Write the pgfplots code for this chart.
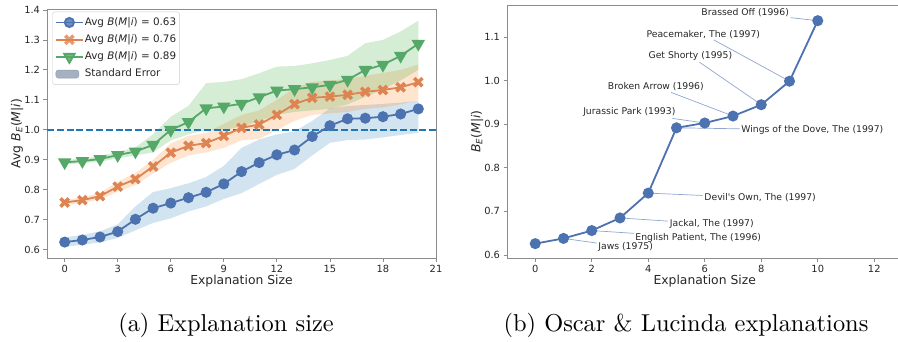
\documentclass[border=0pt]{standalone}
\usepackage{fontspec}
\usepackage{pgfplots}
\pgfplotsset{compat=1.18}
\usepackage{pgfplotstable}
\usetikzlibrary{arrows.meta}
\newfontfamily\dv{DejaVu Sans}
\definecolor{cblue}{HTML}{4C72B0}
\definecolor{corange}{HTML}{DD8452}
\definecolor{cgreen}{HTML}{55A868}
\definecolor{tblue}{HTML}{1F77B4}
\definecolor{torange}{HTML}{FF7F0E}
\definecolor{tgreen}{HTML}{2CA02C}
\definecolor{spine}{HTML}{8C8C8C}
\definecolor{txt}{HTML}{262626}
\definecolor{seleg}{HTML}{8F9DB0}
\definecolor{annot}{HTML}{8FA6D0}

\pgfdeclareplotmark{Xf}{%
  \pgftransformrotate{45}%
  \pgfmathsetlengthmacro{\ma}{\pgfplotmarksize}%
  \pgfmathsetlengthmacro{\mw}{0.3*\pgfplotmarksize}%
  \pgfpathmoveto{\pgfqpoint{\mw}{\mw}}%
  \pgfpathlineto{\pgfqpoint{\mw}{\ma}}%
  \pgfpathlineto{\pgfqpoint{-\mw}{\ma}}%
  \pgfpathlineto{\pgfqpoint{-\mw}{\mw}}%
  \pgfpathlineto{\pgfqpoint{-\ma}{\mw}}%
  \pgfpathlineto{\pgfqpoint{-\ma}{-\mw}}%
  \pgfpathlineto{\pgfqpoint{-\mw}{-\mw}}%
  \pgfpathlineto{\pgfqpoint{-\mw}{-\ma}}%
  \pgfpathlineto{\pgfqpoint{\mw}{-\ma}}%
  \pgfpathlineto{\pgfqpoint{\mw}{-\mw}}%
  \pgfpathlineto{\pgfqpoint{\ma}{-\mw}}%
  \pgfpathlineto{\pgfqpoint{\ma}{\mw}}%
  \pgfpathclose
  \pgfusepathqfill
}

% mean values
\pgfplotstableread{
x blue orange green
0 0.626 0.758 0.892
1 0.633 0.766 0.896
2 0.643 0.779 0.903
3 0.661 0.811 0.916
4 0.702 0.836 0.928
5 0.739 0.878 0.950
6 0.756 0.924 1.000
7 0.774 0.947 1.026
8 0.792 0.956 1.072
9 0.820 0.980 1.078
10 0.861 1.007 1.087
11 0.891 1.018 1.109
12 0.917 1.050 1.131
13 0.933 1.086 1.136
14 0.978 1.107 1.142
15 1.014 1.111 1.150
16 1.037 1.117 1.167
17 1.039 1.127 1.200
18 1.044 1.133 1.217
19 1.053 1.142 1.247
20 1.070 1.159 1.287
}\means

% standard-error bands: upper edge left to right, then lower edge right to left
\pgfplotstableread{
x y
0 0.642
1 0.650
2 0.662
3 0.685
4 0.745
5 0.793
6 0.806
7 0.822
8 0.843
9 0.880
10 0.940
11 0.968
12 0.985
13 0.995
14 1.030
15 1.072
16 1.080
17 1.083
18 1.087
19 1.091
20 1.098
20 0.990
19 0.983
18 0.975
17 0.968
16 0.966
15 0.957
14 0.915
13 0.870
12 0.850
11 0.820
10 0.789
9 0.770
8 0.745
7 0.728
6 0.705
5 0.690
4 0.665
3 0.640
2 0.625
1 0.617
0 0.610
}\bandB

\pgfplotstableread{
x y
0 0.766
1 0.775
2 0.790
3 0.828
4 0.856
5 0.900
6 0.955
7 0.980
8 0.990
9 1.020
10 1.050
11 1.065
12 1.100
13 1.140
14 1.160
15 1.165
16 1.170
17 1.180
18 1.190
19 1.200
20 1.218
20 1.100
19 1.085
18 1.075
17 1.070
16 1.060
15 1.055
14 1.050
13 1.030
12 1.000
11 0.970
10 0.965
9 0.940
8 0.925
7 0.915
6 0.890
5 0.855
4 0.816
3 0.794
2 0.768
1 0.757
0 0.750
}\bandO

\pgfplotstableread{
x y
0 0.900
1 0.904
2 0.913
3 0.927
4 0.942
5 0.985
6 1.044
7 1.080
8 1.156
9 1.160
10 1.169
11 1.189
12 1.211
13 1.213
14 1.222
15 1.233
16 1.247
17 1.289
18 1.300
19 1.328
20 1.364
20 1.200
19 1.165
18 1.135
17 1.110
16 1.085
15 1.070
14 1.065
13 1.060
12 1.050
11 1.030
10 1.010
9 1.000
8 1.000
7 0.985
6 0.965
5 0.925
4 0.915
3 0.905
2 0.894
1 0.889
0 0.885
}\bandG

\pgfplotsset{
  myaxis/.style={
    scale only axis,
    axis line style={spine, line width=0.8bp},
    tick style={spine, line width=0.8bp},
    tick align=outside,
    major tick length=3.5bp,
    xtick pos=left, ytick pos=left,
    ticklabel style={font=\dv\fontsize{9.9}{12}\selectfont, text=txt},
    /pgf/number format/assume math mode=true,
  },
}

\newcommand{\lf}{\dv\fontsize{10.4}{12.5}\selectfont}
\newcommand{\BMi}{\textit{B}(\textit{M}|\textit{i})}
\newcommand{\BEMi}{\textit{B}\textsubscript{\textit{E}}(\textit{M}|\textit{i})}

\begin{document}
\begin{tikzpicture}

% ---------------- left panel ----------------
\begin{axis}[myaxis,
  at={(47bp,-9bp)}, anchor=north west,
  width=389bp, height=249.3bp,
  xmin=-1, xmax=21, ymin=0.572, ymax=1.403,
  xtick={0,3,6,9,12,15,18,21},
  ytick={0.6,0.7,0.8,0.9,1.0,1.1,1.2,1.3,1.4},
  yticklabel style={/pgf/number format/.cd, fixed, fixed zerofill, precision=1},
  legend cell align=left,
  legend style={at={(axis description cs:0.0136,0.989)}, anchor=north west,
    font=\lf, text=txt,
    draw={rgb,255:red,204;green,204;blue,204}, rounded corners=2.5bp,
    fill=white, fill opacity=0.8, text opacity=1,
    inner xsep=2.5bp, inner ysep=4.3bp, row sep=4.7bp,
    nodes={inner sep=1bp, text height=8bp, text depth=2.5bp},
    /tikz/every even column/.append style={column sep=2.5bp}},
  legend image code/.code={\draw[mark repeat=2, mark phase=2, #1]
     plot coordinates {(0bp,0bp) (13.5bp,0bp) (27bp,0bp)};},
]
\addplot[draw=none, fill=tblue, fill opacity=0.2, forget plot] table[x=x,y=y]{\bandB};
\addplot[draw=none, fill=torange, fill opacity=0.2, forget plot] table[x=x,y=y]{\bandO};
\addplot[draw=none, fill=tgreen, fill opacity=0.2, forget plot] table[x=x,y=y]{\bandG};

\addplot[tblue, line width=1.5bp, dash pattern=on 7bp off 2.8bp, forget plot] coordinates {(-1,1) (21,1)};

\addplot[cblue, line width=1.8bp, mark=*, mark size=4.6bp, mark options={solid, draw=none, fill=cblue}] table[x=x,y=blue]{\means};
\addlegendentry{\lf Avg \BMi{} = 0.63}
\addplot[corange, line width=1.8bp, mark=Xf, mark size=5.8bp, mark options={solid, fill=corange}] table[x=x,y=orange]{\means};
\addlegendentry{\lf Avg \BMi{} = 0.76}
\addplot[cgreen, line width=1.8bp, mark=triangle*, mark size=6bp, mark options={solid, rotate=180, draw=none, fill=cgreen}] table[x=x,y=green]{\means};
\addlegendentry{\lf Avg \BMi{} = 0.89}
\addlegendimage{legend image code/.code={\fill[seleg] (0bp,-4bp) rectangle (23bp,4bp);}}
\addlegendentry{\lf Standard Error}
\end{axis}

% ---------------- right panel ----------------
\begin{axis}[myaxis,
  at={(507bp,-5bp)}, anchor=north west,
  width=395.5bp, height=253bp,
  xmin=-1, xmax=13, ymin=0.593, ymax=1.174,
  xtick={0,2,4,6,8,10,12},
  ytick={0.6,0.7,0.8,0.9,1.0,1.1},
  yticklabel style={/pgf/number format/.cd, fixed, fixed zerofill, precision=1},
  clip=false,
]
\node[font=\dv\fontsize{9.3}{11}\selectfont, text=txt, inner sep=1.5bp] (a10) at (axis cs:7.43,1.1565) {Brassed Off (1996)};
\node[font=\dv\fontsize{9.3}{11}\selectfont, text=txt, inner sep=1.5bp] (a9) at (axis cs:5.95,1.107) {Peacemaker, The (1997)};
\node[font=\dv\fontsize{9.3}{11}\selectfont, text=txt, inner sep=1.5bp] (a8) at (axis cs:5.49,1.057) {Get Shorty (1995)};
\node[font=\dv\fontsize{9.3}{11}\selectfont, text=txt, inner sep=1.5bp] (a7) at (axis cs:4.27,0.9866) {Broken Arrow (1996)};
\node[font=\dv\fontsize{9.3}{11}\selectfont, text=txt, inner sep=1.5bp] (a6) at (axis cs:3.33,0.9277) {Jurassic Park (1993)};
\node[font=\dv\fontsize{9.3}{11}\selectfont, text=txt, inner sep=1.5bp] (a5) at (axis cs:9.81,0.887) {Wings of the Dove, The (1997)};
\node[font=\dv\fontsize{9.3}{11}\selectfont, text=txt, inner sep=1.5bp] (a4) at (axis cs:7.96,0.731) {Devil's Own, The (1997)};
\node[font=\dv\fontsize{9.3}{11}\selectfont, text=txt, inner sep=1.5bp] (a3) at (axis cs:6.25,0.671) {Jackal, The (1997)};
\node[font=\dv\fontsize{9.3}{11}\selectfont, text=txt, inner sep=1.5bp] (a2) at (axis cs:5.77,0.640) {English Patient, The (1996)};
\node[font=\dv\fontsize{9.3}{11}\selectfont, text=txt, inner sep=1.5bp] (a1) at (axis cs:3.20,0.618) {Jaws (1975)};
\draw[annot, line width=0.7bp, -{Stealth[length=3.5bp,width=2.6bp]}] (a10) -- (axis cs:10,1.138);
\draw[annot, line width=0.7bp, -{Stealth[length=3.5bp,width=2.6bp]}] (a9) -- (axis cs:9,0.999);
\draw[annot, line width=0.7bp, -{Stealth[length=3.5bp,width=2.6bp]}] (a8) -- (axis cs:8,0.945);
\draw[annot, line width=0.7bp, -{Stealth[length=3.5bp,width=2.6bp]}] (a7) -- (axis cs:7,0.919);
\draw[annot, line width=0.7bp, -{Stealth[length=3.5bp,width=2.6bp]}] (a6) -- (axis cs:6,0.903);
\draw[annot, line width=0.7bp, -{Stealth[length=3.5bp,width=2.6bp]}] (a5) -- (axis cs:5,0.892);
\draw[annot, line width=0.7bp, -{Stealth[length=3.5bp,width=2.6bp]}] (a4) -- (axis cs:4,0.742);
\draw[annot, line width=0.7bp, -{Stealth[length=3.5bp,width=2.6bp]}] (a3) -- (axis cs:3,0.685);
\draw[annot, line width=0.7bp, -{Stealth[length=3.5bp,width=2.6bp]}] (a2) -- (axis cs:2,0.656);
\draw[annot, line width=0.7bp, -{Stealth[length=3.5bp,width=2.6bp]}] (a1) -- (axis cs:1,0.638);
\addplot[cblue, line width=1.8bp, mark=*, mark size=4.6bp, mark options={solid, draw=none, fill=cblue}] coordinates {
(0,0.626) (1,0.638) (2,0.656) (3,0.685) (4,0.742) (5,0.892) (6,0.903) (7,0.919) (8,0.945) (9,0.999) (10,1.138)};
\end{axis}

% ---------------- axis labels ----------------
\node[font=\dv\fontsize{12.4}{14}\selectfont, text=txt, inner sep=0] at (241.5bp,-281bp) {Explanation Size};
\node[font=\dv\fontsize{12.4}{14}\selectfont, text=txt, inner sep=0, rotate=90] at (17bp,-133.5bp) {Avg \BEMi};
\node[font=\dv\fontsize{12.4}{14}\selectfont, text=txt, inner sep=0] at (704.7bp,-281bp) {Explanation Size};
\node[font=\dv\fontsize{12.4}{14}\selectfont, text=txt, inner sep=0, rotate=90] at (477bp,-131.5bp) {\BEMi};

% ---------------- captions ----------------
\node[font=\fontsize{10}{12}\selectfont, scale=2.45, inner sep=0] at (226bp,-325bp) {(a) Explanation size};
\node[font=\fontsize{10}{12}\selectfont, scale=2.45, inner sep=0] at (686bp,-325bp) {(b) Oscar \& Lucinda explanations};

\pgfresetboundingbox
\path[use as bounding box] (0bp,0bp) rectangle (898bp,-342bp);
\end{tikzpicture}
\end{document}
